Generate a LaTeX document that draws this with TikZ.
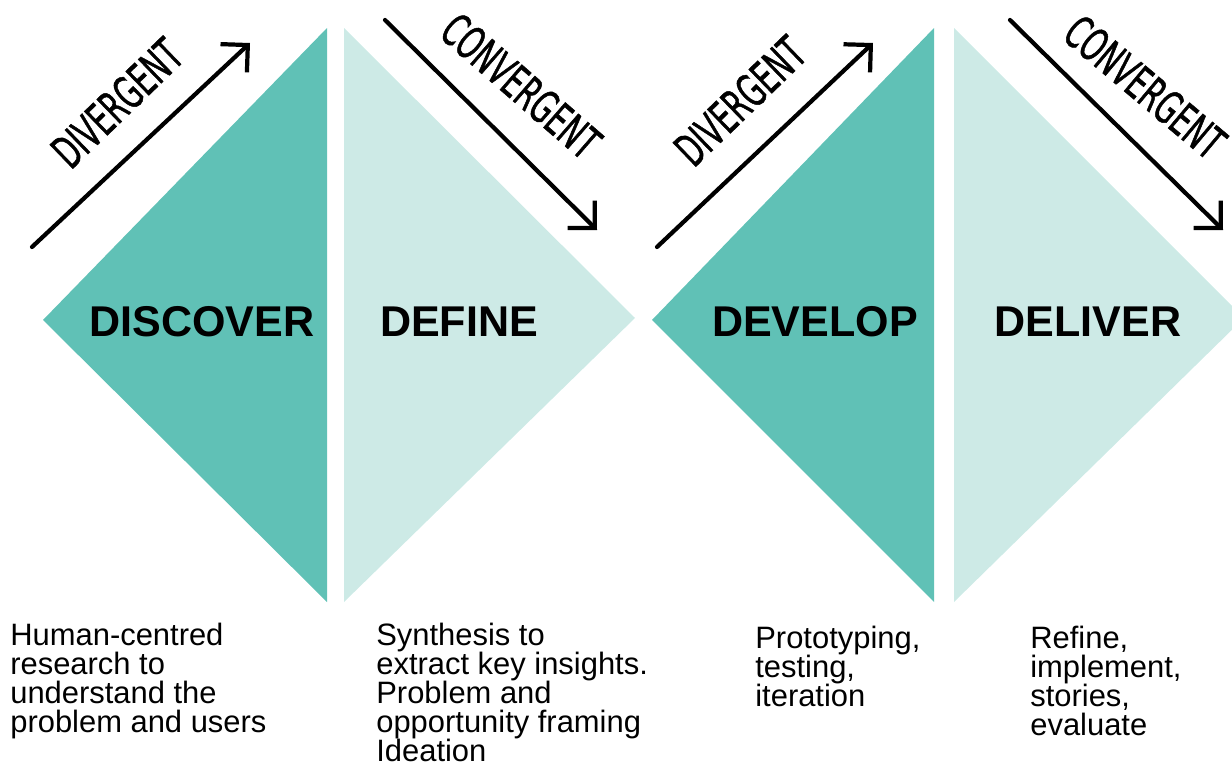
\documentclass[tikz,border=0pt]{standalone}
\usepackage{fontspec}
\setmainfont{Liberation Sans}
\newfontfamily\handfont[FakeStretch=0.6, FakeBold=1]{DejaVu Sans}
\usetikzlibrary{arrows.meta}
\definecolor{deepteal}{HTML}{60C1B6}
\definecolor{paleteal}{HTML}{CDEAE6}

\tikzset{
		dark/.style={fill=deepteal},
		pale/.style={fill=paleteal},
		phase/.style={
			inner sep=0pt, font=\fontsize{24.5}{24.5}\selectfont\bfseries},
		note/.style={
			inner sep=0pt, anchor=north west, align=left, font=\fontsize{17.6}{16.5}\selectfont},
		hand/.style={inner sep=0pt, font=\handfont\fontsize{26}{26}\selectfont},
		flow/.style={draw, line width=2.4pt, line cap=round, line join=round,
			-{Straight Barb[length=11pt, width=22pt]}},
	}
\def\top{28}
\def\bot{602}

\begin{document}
\begin{tikzpicture}[x=0.02cm, y=-0.02cm]
			\clip (0,0) rectangle (1232,774);
			\fill[dark] (43,320) -- (327,\top) -- (327,\bot) -- cycle;
			\fill[pale] (344,\top) -- (635,318) -- (344,\bot) -- cycle;
			\fill[dark] (652,320) -- (934,\top) -- (934,\bot) -- cycle;
			\fill[pale] (954,\top) -- (1244,318) -- (954,\bot) -- cycle;
			\node[phase] (discover) at (202,322) {DISCOVER};
			\node[phase] (define) at (459,322) {DEFINE};
			\node[phase] (develop) at (815,322) {DEVELOP};
			\node[phase] (deliver) at (1088,322) {DELIVER};
			\coordinate (d1s) at (32,247); \coordinate (d1e) at (250,43);
			\coordinate (c1s) at (385,20); \coordinate (c1e) at (597,230);
			\coordinate (d2s) at (657,247); \coordinate (d2e) at (873,43);
			\coordinate (c2s) at (1010,20); \coordinate (c2e) at (1223,230);
			\draw[flow] (d1s) -- (d1e);
			\draw[flow] (c1s) -- (c1e);
			\draw[flow] (d2s) -- (d2e);
			\draw[flow] (c2s) -- (c2e);
			\node[hand, rotate=44] (div1) at (117,103) {DIVERGENT};
			\node[hand, rotate=-41] (conv1) at (521,86) {CONVERGENT};
			\node[hand, rotate=44] (div2) at (740,101) {DIVERGENT};
			\node[hand, rotate=-40] (conv2) at (1145,87) {CONVERGENT};
			\node[note] (discovernote) at (10,623) {Human-centred\\research to\\understand the\\problem and users};
			\node[note] (definenote) at (376,623) {Synthesis to\\extract key insights.\\Problem and\\opportunity framing\\Ideation};
			\node[note] (developnote) at (755,626) {Prototyping,\\testing,\\iteration};
			\node[note] (delivernote) at (1030,626) {Refine,\\implement,\\stories,\\evaluate};
			\end{tikzpicture}
\end{document}
